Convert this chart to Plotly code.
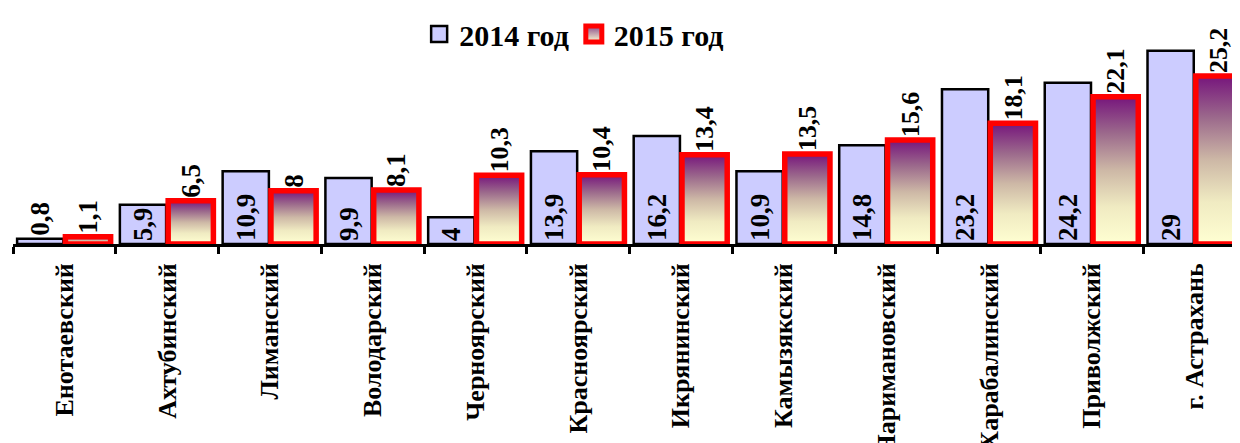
import plotly.graph_objects as go

categories = ["Енотаевский", "Ахтубинский", "Лиманский", "Володарский", "Черноярский",
              "Красноярский", "Икрянинский", "Камызякский", "Наримановский",
              "Харабалинский", "Приволжский", "г. Астрахань"]
values_2014 = [0.8, 5.9, 10.9, 9.9, 4, 13.9, 16.2, 10.9, 14.8, 23.2, 24.2, 29]
values_2015 = [1.1, 6.5, 8, 8.1, 10.3, 10.4, 13.4, 13.5, 15.6, 18.1, 22.1, 25.2]
series_names = ["2014 год", "2015 год"]

FONT = "Liberation Serif"
idx = list(range(len(categories)))


def fmt(v):
    return f"{v:g}".replace(".", ",")


grad = [[0.0, "#FFFFD2"], [0.25, "#F0EBC2"], [0.5, "#CDB8A6"],
        [0.75, "#9C6A8C"], [1.0, "#76157C"]]

LBL = dict(family=FONT, size=27, color="black", weight="bold")

fig = go.Figure()

# 2014 bars
fig.add_trace(go.Bar(
    x=idx, y=values_2014, offset=-0.46, width=0.45,
    marker=dict(color="#CCCCFF", line=dict(color="black", width=2.5)),
    text=[fmt(v) for v in values_2014], textposition="auto",
    insidetextanchor="start", textangle=-90,
    textfont=LBL, insidetextfont=LBL, outsidetextfont=LBL,
    cliponaxis=False, showlegend=False, hoverinfo="skip",
))

# invisible 2015 bars carrying the value labels
fig.add_trace(go.Bar(
    x=idx, y=values_2015, offset=0.01, width=0.44,
    marker=dict(color="rgba(0,0,0,0)", line=dict(width=0)),
    text=[fmt(v) for v in values_2015], textposition="outside", textangle=-90,
    outsidetextfont=LBL,
    cliponaxis=False, showlegend=False, hoverinfo="skip",
))

# 2015 bars with gradient fill and red border
for i, v in zip(idx, values_2015):
    x0, x1 = i + 0.01, i + 0.45
    fig.add_trace(go.Scatter(
        x=[x0, x0, x1, x1, x0], y=[0, v, v, 0, 0],
        mode="lines", fill="toself",
        fillgradient=dict(type="vertical", colorscale=grad),
        line=dict(color="#FF0000", width=5.5),
        showlegend=False, hoverinfo="skip",
    ))

# legend entries
fig.add_trace(go.Scatter(
    x=[None], y=[None], mode="markers", name=series_names[0],
    marker=dict(symbol="square", size=16, color="#CCCCFF",
                line=dict(color="black", width=2.5)),
))
fig.add_trace(go.Scatter(
    x=[None], y=[None], mode="markers", name=series_names[1],
    marker=dict(symbol="square", size=16, color="#8A4A8A",
                gradient=dict(type="vertical", color="#FFFFD2"),
                line=dict(color="#FF0000", width=5)),
))

# the page body adds an 8px offset; the figure size compensates for it
fig.update_layout(
    width=1232, height=435,
    margin=dict(l=5, r=0, t=0, b=199),
    plot_bgcolor="white", paper_bgcolor="white",
    barmode="overlay",
    legend=dict(orientation="h", x=0.331, xanchor="left", y=1.073, yanchor="top",
                font=dict(family=FONT, size=30, color="black", weight="bold"),
                itemwidth=30, tracegroupgap=0, bgcolor="rgba(0,0,0,0)"),
    xaxis=dict(
        range=[-0.5, 11.44], tickvals=idx, ticktext=categories,
        tickangle=-90, ticks="", ticklabelstandoff=6, automargin=False,
        tickfont=dict(family=FONT, size=26, color="black", weight="bold"),
        showline=True, linecolor="black", linewidth=2.5,
        showgrid=False, zeroline=False,
        minor=dict(tickvals=[i - 0.5 for i in range(len(categories) + 1)],
                   ticks="outside", ticklen=7, tickwidth=2.5, tickcolor="black",
                   showgrid=False),
    ),
    yaxis=dict(range=[0, 33.0], visible=False, showgrid=False, zeroline=False,
               automargin=False),
    hovermode=False,
)

fig.write_html("out.html")
